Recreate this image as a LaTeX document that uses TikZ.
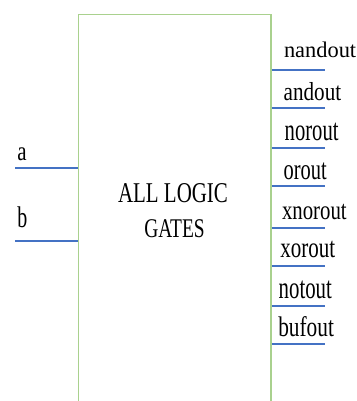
\documentclass[tikz,border=0pt]{standalone}
\usepackage{fontspec}
\usepackage{graphicx}
\setmainfont{Liberation Serif}
\newfontfamily\blockfont{Liberation Serif}
\definecolor{blockgreen}{HTML}{A9D18E}
\definecolor{wireblue}{HTML}{4472C4}
% text set at a given size and stretched vertically by a given ratio
\newcommand\tallword[3]{\scalebox{1}[#2]{\fontsize{#1}{#1}\blockfont #3}}
\begin{document}
\begin{tikzpicture}[x=1bp,y=-1bp,
  block/.style={draw=blockgreen,line width=1.8bp},
  wire/.style={draw=wireblue,line width=2bp},
  pinlabel/.style={anchor=base west,inner sep=0pt,outer sep=0pt},
  title/.style={anchor=base,inner sep=0pt,outer sep=0pt}]
\useasboundingbox (0,0) rectangle (357,401);
% the block runs off the lower edge of the sheet
\begin{scope}
  \clip (0,0) rectangle (357,401);
  \node[block,minimum width=192.5bp,minimum height=420bp,anchor=north west,inner sep=0pt]
    (blk) at (77.5,13.5) {};
\end{scope}
% block caption
\node[title] (cap1) at (173,202) {\tallword{21}{1.37}{ALL LOGIC}};
\node[title] (cap2) at (174.5,237) {\tallword{19.5}{1.39}{GATES}};
% input pins
\coordinate (ina) at (blk.west |- 0,167.5);
\coordinate (inb) at (blk.west |- 0,240.5);
\coordinate (enda) at (15,167.5);
\coordinate (endb) at (15,240.5);
\draw[wire] (enda) -- (ina);
\draw[wire] (endb) -- (inb);
\node[pinlabel] (la) at (17.3,160.7) {\tallword{21}{1.3}{a}};
\node[pinlabel] (lb) at (17.3,227.3) {\tallword{20}{1.5}{b}};
% output pins
\foreach \nm/\y in {nand/69.5,and/107.5,nor/147.5,or/185.5,xnor/227.5,xor/265.5,not/305.5,buf/343.5}{
  \coordinate (p\nm) at (blk.east |- 0,\y);
  \coordinate (q\nm) at (325,\y);
  \draw[wire] (p\nm) -- (q\nm);
}
\node[pinlabel] (lnand) at (284,57.7) {\tallword{22.5}{1.0}{nandout}};
\node[pinlabel] (land) at (283.7,100) {\tallword{21.2}{1.23}{andout}};
\node[pinlabel] (lnor) at (284.7,140) {\tallword{20.7}{1.5}{norout}};
\node[pinlabel] (lor) at (283.7,179) {\tallword{20.5}{1.45}{orout}};
\node[pinlabel] (lxnor) at (282,219.3) {\tallword{20.9}{1.3}{xnorout}};
\node[pinlabel] (lxor) at (280.3,257) {\tallword{21.1}{1.38}{xorout}};
\node[pinlabel] (lnot) at (278.7,298) {\tallword{20.9}{1.5}{notout}};
\node[pinlabel] (lbuf) at (278.3,336.7) {\tallword{21.4}{1.33}{bufout}};
\end{tikzpicture}
\end{document}
